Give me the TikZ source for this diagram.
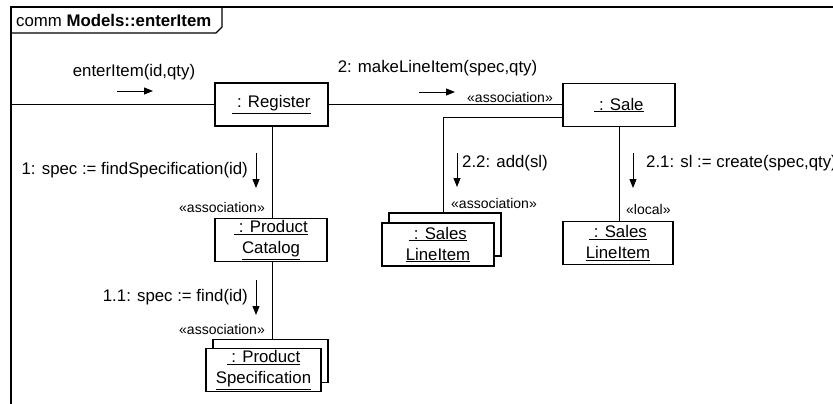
\documentclass[tikz,border=0pt]{standalone}
\usepackage{fontspec}
\setmainfont{Liberation Sans}
\usetikzlibrary{arrows.meta}
\newcommand\objline[1]{\underline{#1}}
\begin{document}
\begin{tikzpicture}[x=1pt,y=-1pt,
  every node/.style={font=\fontsize{16.8}{21}\selectfont, inner sep=0pt},
  obj/.style={draw, line width=1.3pt, fill=white, align=center,
              minimum width=#1, minimum height=43pt},
  obj/.default=112pt,
  link/.style={line width=0.9pt},
  msg/.style={line width=0.9pt, -{Triangle[length=9pt,width=7pt]}},
  stereo/.style={font=\fontsize{14}{17}\selectfont},
  frm/.style={line width=1.6pt}]
\useasboundingbox (0,0) rectangle (833,404);

% diagram frame and name tab
\draw[frm] (11,404) -- (11,7) -- (833,7);
\draw[line width=1.2pt] (11,33) -- (216,33) -- (222,27) -- (222,7);
\node[anchor=west] (title) at (16,20) {comm \textbf{Models::enterItem}};

% objects
\node[obj=113pt] (reg) at (271.5,104.5) {\objline{\ : Register}};
\node[obj] (sale) at (619,105) {\objline{\ : Sale}};
\node[obj] (cat) at (271,240) {\objline{\ : Product}\\\objline{Catalog}};
\node[obj=115pt] (specback) at (270.5,361) {};
\node[obj=115pt] (spec) at (263.5,370) {\objline{\ : Product}\\\objline{Specification}};
\node[obj] (slback) at (445,234.5) {};
\node[obj] (sl) at (438,244.5) {\objline{\ : Sales}\\\objline{LineItem}};
\node[obj=110pt] (slloc) at (618,243) {\objline{\ : Sales}\\\objline{LineItem}};

% links
\coordinate (entry) at (11,104);
\draw[link] (entry) -- (entry -| reg.west);
\draw[link] (reg.east |- 0,104) -- (sale.west |- 0,104);
\draw[link] (reg.south -| 272,0) -- (cat.north -| 272,0);
\draw[link] (cat.south -| 272,0) -- (specback.north -| 272,0);
\draw[link] ([yshift=-12pt]sale.west) -| ([xshift=-2pt]slback.north);
\draw[link] (sale.south) -- (sale.south |- slloc.north);

% messages
\node (m0) at (134,72) {enterItem(id,qty)};
\draw[msg] (117,91) -- (153,91);
\node (m2) at (437.5,68) {2: makeLineItem(spec,qty)};
\draw[msg] (419,92) -- (455,92);
\node[stereo, anchor=east] at (553,97) {«association»};

\node[anchor=east] (m1) at (248,170) {1: spec := findSpecification(id)};
\draw[msg] (256,153) -- (256,188);
\node[stereo, anchor=east] at (265,207) {«association»};

\node[anchor=east] (m11) at (248,297) {1.1: spec := find(id)};
\draw[msg] (256,280) -- (256,315);
\node[stereo, anchor=east] at (265,329) {«association»};

\node[anchor=west] (m22) at (462,163) {2.2: add(sl)};
\draw[msg] (457,153) -- (457,187);
\node[stereo, anchor=west] at (451,203) {«association»};

\node[anchor=west] (m21) at (646,163) {2.1: sl := create(spec,qty)};
\draw[msg] (633,153) -- (633,188);
\node[stereo, anchor=west] at (626,209) {«local»};
\end{tikzpicture}
\end{document}
